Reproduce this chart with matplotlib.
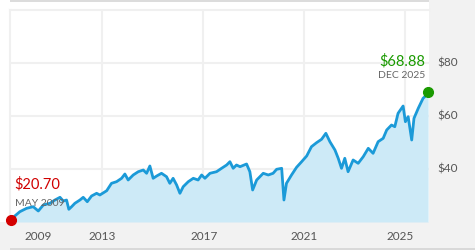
import matplotlib
matplotlib.use("Agg")
import matplotlib.pyplot as plt
from matplotlib.patches import Rectangle
from matplotlib.transforms import blended_transform_factory

# price history (decimal years, dollars)
years = [2009.38, 2009.55, 2009.75, 2010.02, 2010.28, 2010.48, 2010.68, 2010.94,
         2011.14, 2011.34, 2011.47, 2011.60, 2011.69, 2011.80, 2011.93, 2012.13,
         2012.26, 2012.42, 2012.59, 2012.79, 2012.92, 2013.19, 2013.38, 2013.58,
         2013.78, 2013.91, 2014.04, 2014.24, 2014.44, 2014.64, 2014.77, 2014.90,
         2015.03, 2015.17, 2015.36, 2015.56, 2015.69, 2015.82, 2015.96, 2016.09,
         2016.22, 2016.42, 2016.62, 2016.81, 2016.95, 2017.08, 2017.28, 2017.54,
         2017.74, 2017.94, 2018.07, 2018.20, 2018.33, 2018.47, 2018.73, 2018.86,
         2018.97, 2019.13, 2019.39, 2019.59, 2019.78, 2019.92, 2020.12, 2020.21,
         2020.31, 2020.51, 2020.71, 2020.91, 2021.11, 2021.30, 2021.50, 2021.70,
         2021.87, 2022.03, 2022.23, 2022.36, 2022.49, 2022.62, 2022.75, 2022.95,
         2023.15, 2023.35, 2023.55, 2023.74, 2023.94, 2024.14, 2024.28, 2024.47,
         2024.60, 2024.73, 2024.93, 2025.02, 2025.13, 2025.27, 2025.36, 2025.53,
         2025.72, 2025.86, 2025.92]
prices = [20.70, 22.26, 23.89, 25.17, 25.77, 24.15, 26.42, 27.06,
          28.30, 29.32, 27.92, 28.30, 24.79, 25.77, 27.06, 28.30,
          29.32, 27.66, 29.81, 30.83, 30.19, 31.81, 34.60, 35.21,
          36.49, 38.11, 35.85, 37.74, 38.98, 39.62, 38.38, 41.13,
          36.49, 37.36, 38.38, 37.09, 34.60, 36.49, 33.96, 30.83,
          33.32, 35.21, 36.49, 35.85, 37.74, 36.49, 38.38, 38.98,
          40.26, 41.51, 42.75, 40.26, 41.51, 40.87, 41.89, 38.98,
          32.08, 35.85, 38.38, 37.74, 38.38, 39.89, 40.26, 28.30,
          34.60, 37.74, 40.64, 42.75, 44.91, 48.42, 49.92, 51.21,
          53.47, 50.30, 47.17, 44.04, 40.26, 44.04, 38.98, 43.40,
          42.15, 44.64, 47.81, 45.92, 50.30, 51.58, 54.72, 56.60,
          55.96, 61.02, 63.77, 57.85, 59.74, 50.94, 59.13, 62.91,
          66.68, 67.92, 68.88]

grid_years = [2013, 2017, 2021, 2025]
year_labels = ["2009", "2013", "2017", "2021", "2025"]
year_label_pos = [2010.47, 2013.0, 2017.05, 2021.0, 2024.8]
price_ticks = [40, 60, 80]
price_labels = ["$40", "$60", "$80"]

low_label = "$20.70"
low_date = "MAY 2009"
last_label = "$68.88"
last_date = "DEC 2025"

plt.rcParams['font.family'] = ['Lato', 'DejaVu Sans']

W, H = 475, 250
fig = plt.figure(figsize=(W / 100, H / 100), dpi=100)
fig.patch.set_facecolor("white")

panel = "#f2f2f2"
# grey side and bottom panels
fig.patches.append(Rectangle((429 / W, 0), (W - 429) / W, 1, transform=fig.transFigure,
                             facecolor=panel, edgecolor="none", zorder=0))
fig.patches.append(Rectangle((0, 0), 1, 28 / H, transform=fig.transFigure,
                             facecolor=panel, edgecolor="none", zorder=0))
fig.patches.append(Rectangle((10 / W, 0), (W - 10) / W, 2 / H, transform=fig.transFigure,
                             facecolor="#d9d9d9", edgecolor="none", zorder=1))
fig.patches.append(Rectangle((10 / W, 248 / H), (429 - 10) / W, 2 / H, transform=fig.transFigure,
                             facecolor="#dcdcdc", edgecolor="none", zorder=1))

ax = fig.add_axes([10 / W, 28 / H, 419 / W, 212 / H])
ax.set_zorder(5)
ax.set_xlim(2009.36, 2025.955)
ax.set_ylim(20, 100)
ax.set_facecolor("white")

for s in ["right", "bottom"]:
    ax.spines[s].set_visible(False)
for s in ["left", "top"]:
    ax.spines[s].set_color("#f0f0f0")
    ax.spines[s].set_linewidth(1.5)

ax.set_xticks(grid_years)
ax.set_yticks(price_ticks)
ax.tick_params(length=0, labelbottom=False, labelleft=False)
ax.grid(True, color="#f0f0f0", linewidth=1.5)
ax.set_axisbelow(True)

ax.fill_between(years, prices, 20, color="#cdeaf7", linewidth=0, zorder=2)
ax.plot(years, prices, color="#1b9ad8", linewidth=2.0, zorder=3)

ax.plot(years[0], prices[0], "o", color="#d40000", markersize=7, clip_on=False, zorder=5)
ax.plot(years[-1], prices[-1], "o", color="#1a9a00", markersize=7, clip_on=False, zorder=5)

# annotations
ax.annotate(low_label, (years[0], prices[0]), xytext=(3, 26), textcoords="offset points",
            color="#d00000", fontsize=10.5, ha="left", va="center")
ax.annotate(low_date, (years[0], prices[0]), xytext=(3, 12), textcoords="offset points",
            color="#666666", fontsize=7.5, ha="left", va="center")
ax.annotate(last_label, (years[-1], prices[-1]), xytext=(-2, 22.5), textcoords="offset points",
            color="#1a9a00", fontsize=10.5, ha="right", va="center")
ax.annotate(last_date, (years[-1], prices[-1]), xytext=(-2, 12), textcoords="offset points",
            color="#666666", fontsize=7.5, ha="right", va="center")

# tick labels in grey panels
for lab, pos in zip(year_labels, year_label_pos):
    ax.text(pos, -14 / 212, lab, transform=ax.get_xaxis_transform(),
            ha="center", va="center", fontsize=8.5, color="#555555")
ytrans = blended_transform_factory(fig.transFigure, ax.transData)
for lab, val in zip(price_labels, price_ticks):
    ax.text(437 / W, val, lab, ha="left", va="center", fontsize=8.5, color="#555555",
            transform=ytrans)

fig.savefig("out.png", dpi=100)
